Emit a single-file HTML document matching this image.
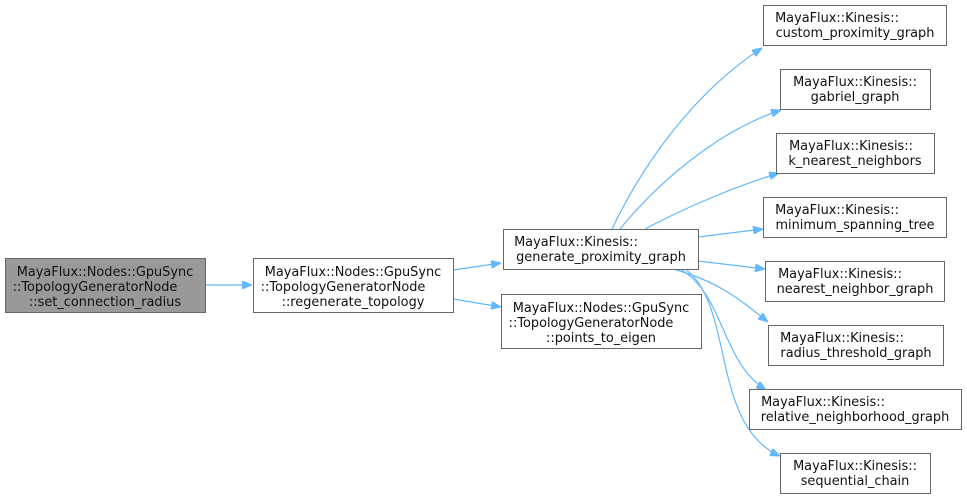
<!DOCTYPE html>
<html><head><meta charset="utf-8"><style>
body{margin:0;background:#fff;width:967px;height:499px;overflow:hidden}
svg text{font-family:"DejaVu Sans","Liberation Sans",sans-serif;font-size:12.9px;fill:#111;text-anchor:middle}
</style></head><body>
<svg width="967" height="499" viewBox="0 0 967 499" xmlns="http://www.w3.org/2000/svg">
<defs><marker id="a" markerWidth="10" markerHeight="8" refX="10" refY="4" orient="auto" markerUnits="userSpaceOnUse">
<path d="M0,0 L10,4 L0,8 z" fill="#63b8ff" stroke="#63b8ff"/></marker></defs>
<g fill="none" stroke="#63b8ff" stroke-width="1.2" marker-end="url(#a)">
<path d="M205,285 L252,285"/>
<path d="M453,270 L501,263"/>
<path d="M453,299 L501,307"/>
<path d="M612,229 C640,170 690,95 762,48"/>
<path d="M620,229 C660,180 720,130 781,110"/>
<path d="M645,229 C690,205 740,185 779,173"/>
<path d="M698,237 L763,229"/>
<path d="M698,261 L765,269"/>
<path d="M673,269 C720,282 740,300 768,322"/>
<path d="M680,269 C725,295 720,360 766,390"/>
<path d="M685,269 C735,305 710,425 780,456"/>
</g>
<g stroke="#666" stroke-width="1">
<rect x="5.5" y="258.5" width="200" height="54" fill="#999"/>
<rect x="253.5" y="258.5" width="200" height="54" fill="#fff"/>
<rect x="503.5" y="229.5" width="195" height="40" fill="#fff"/>
<rect x="501.5" y="294.5" width="200" height="54" fill="#fff"/>
<rect x="763.5" y="5.5" width="183" height="40" fill="#fff"/>
<rect x="780.5" y="69.5" width="150" height="40" fill="#fff"/>
<rect x="776.5" y="133.5" width="158" height="40" fill="#fff"/>
<rect x="763.5" y="197.5" width="183" height="40" fill="#fff"/>
<rect x="765.5" y="261.5" width="179" height="40" fill="#fff"/>
<rect x="768.5" y="325.5" width="175" height="40" fill="#fff"/>
<rect x="749.5" y="389.5" width="212" height="40" fill="#fff"/>
<rect x="780.5" y="453.5" width="150" height="40" fill="#fff"/>
</g>
<g>
<text x="105" y="276">MayaFlux::Nodes::GpuSync</text>
<text x="95" y="291">::TopologyGeneratorNode</text>
<text x="105" y="306">::set_connection_radius</text>
<text x="353" y="276">MayaFlux::Nodes::GpuSync</text>
<text x="343" y="291">::TopologyGeneratorNode</text>
<text x="353" y="306">::regenerate_topology</text>
<text x="576" y="246">MayaFlux::Kinesis::</text>
<text x="601" y="261">generate_proximity_graph</text>
<text x="601" y="312">MayaFlux::Nodes::GpuSync</text>
<text x="591" y="327">::TopologyGeneratorNode</text>
<text x="601" y="342">::points_to_eigen</text>
<text x="837" y="22">MayaFlux::Kinesis::</text>
<text x="855" y="37">custom_proximity_graph</text>
<text x="855" y="86">MayaFlux::Kinesis::</text>
<text x="855" y="101">gabriel_graph</text>
<text x="851" y="150">MayaFlux::Kinesis::</text>
<text x="855" y="165">k_nearest_neighbors</text>
<text x="837" y="214">MayaFlux::Kinesis::</text>
<text x="855" y="229">minimum_spanning_tree</text>
<text x="840" y="278">MayaFlux::Kinesis::</text>
<text x="855" y="293">nearest_neighbor_graph</text>
<text x="842" y="342">MayaFlux::Kinesis::</text>
<text x="856" y="357">radius_threshold_graph</text>
<text x="823" y="406">MayaFlux::Kinesis::</text>
<text x="855" y="421">relative_neighborhood_graph</text>
<text x="855" y="470">MayaFlux::Kinesis::</text>
<text x="855" y="485">sequential_chain</text>
</g>
</svg>
</body></html>
